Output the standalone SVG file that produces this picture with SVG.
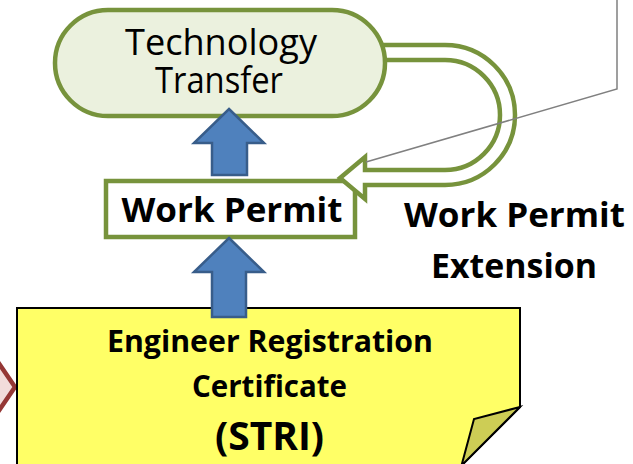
<svg xmlns="http://www.w3.org/2000/svg" width="633" height="464" viewBox="0 0 633 464">
  <style>
    .green { stroke: #77933C; stroke-width: 4.5; }
    .blue { fill: #4F81BD; stroke: #385D8A; stroke-width: 2.5; stroke-linejoin: miter; }
    .gray { fill: none; stroke: #808080; stroke-width: 1.5; }
    .t { font-family: "Open Sans", "Noto Sans", "Liberation Sans", sans-serif; fill: #000; text-anchor: middle; }
    .b { font-weight: bold; }
  </style>
  <rect width="633" height="464" fill="#FFFFFF"/>

  <g id="decision-left">
    <polygon points="15,387 -30,321 -75,387 -30,453" fill="#F2DCDB" stroke="#953735" stroke-width="4.5"/>
  </g>

  <g id="work-permit">
    <rect x="106" y="181" width="249" height="56" fill="#FFFFFF" class="green"/>
    <text class="t b" x="232" y="222" font-size="34" textLength="221" lengthAdjust="spacingAndGlyphs">Work Permit</text>
  </g>

  <g id="connectors">
    <path id="extension-arrow" d="M375,45 H445 A70,70 0 0 1 445,185 H365 V199 L340,178 L365,157 V170 H445 A55,55 0 0 0 445,60 H375" fill="#FFFFFF" class="green" stroke-linejoin="miter"/>
  </g>

  <g id="technology-transfer">
    <rect x="55" y="10" width="330" height="106" rx="53" ry="53" fill="#EBF1DE" class="green"/>
    <text class="t" x="221" y="55" font-size="37" textLength="192" lengthAdjust="spacingAndGlyphs">Technology</text>
    <text class="t" x="219" y="93" font-size="37" textLength="128" lengthAdjust="spacingAndGlyphs">Transfer</text>
  </g>

  <g id="blue-arrows">
    <polygon class="blue" points="229,109 264,143 247,143 247,175 212,175 212,143 194,143"/>
  </g>

  <g id="callout-lines">
    <polyline class="gray" points="366,162 617,89 617,-2"/>
    <line class="gray" x1="146" y1="458" x2="162" y2="467"/>
  </g>

  <g id="engineer-registration">
    <path d="M17,308 H520 V407 L440,487 H17 Z" fill="#FFFF66" stroke="#000" stroke-width="2"/>
    <polygon points="520,407 474,419 461.5,465.5" fill="#CDCD55" stroke="#000" stroke-width="2" stroke-linejoin="miter"/>
    <text class="t b" x="270" y="352" font-size="31" textLength="326" lengthAdjust="spacingAndGlyphs">Engineer Registration</text>
    <text class="t b" x="269.5" y="397" font-size="31" textLength="155" lengthAdjust="spacingAndGlyphs">Certificate</text>
    <text class="t b" x="269.5" y="450" font-size="39" textLength="109" lengthAdjust="spacingAndGlyphs">(STRI)</text>
  </g>

  <g id="lower-arrow">
    <polygon class="blue" points="229,238 264,272 246,272 246,317 212,317 212,272 194,272"/>
  </g>

  <g id="extension-label">
    <text class="t b" x="514.5" y="227" font-size="34" textLength="221" lengthAdjust="spacingAndGlyphs">Work Permit</text>
    <text class="t b" x="514" y="278" font-size="34" textLength="166" lengthAdjust="spacingAndGlyphs">Extension</text>
  </g>
</svg>
